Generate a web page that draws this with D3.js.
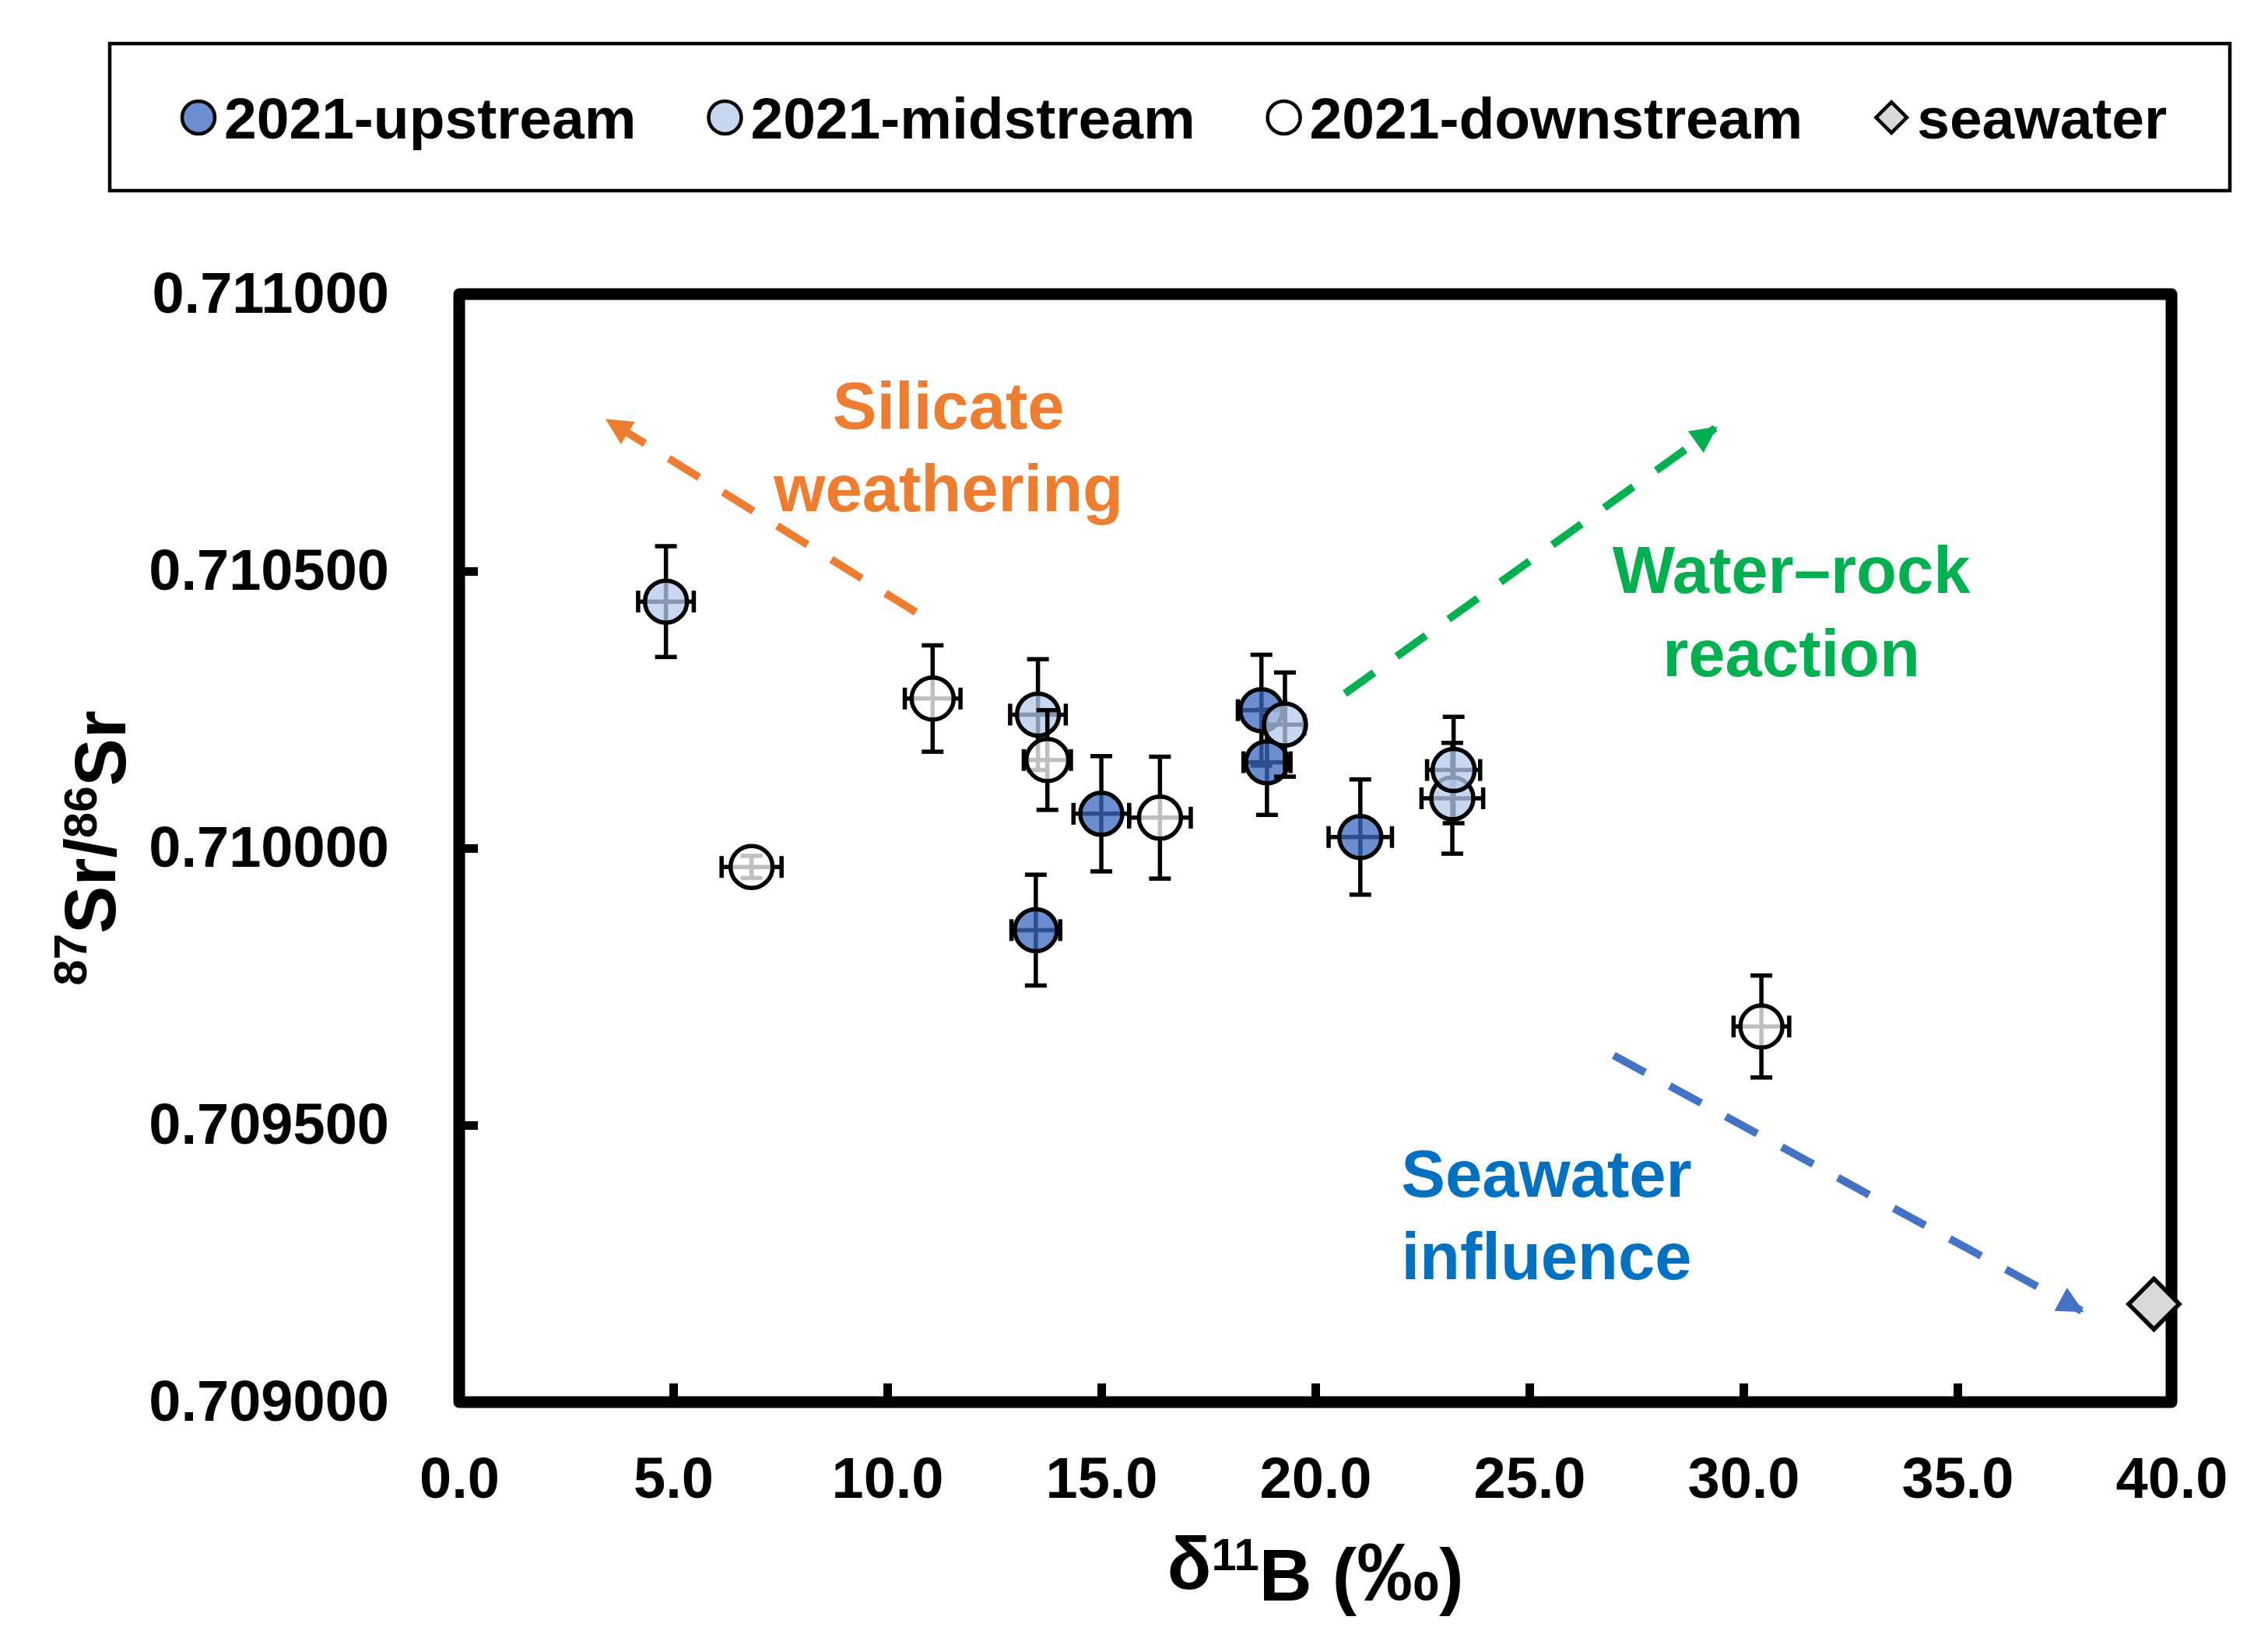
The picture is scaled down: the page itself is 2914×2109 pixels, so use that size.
<!DOCTYPE html>
<html>
<head>
<meta charset="utf-8">
<script src="https://cdn.jsdelivr.net/npm/d3@7"></script>
<style>
  body { margin: 0; background: #fff; }
  text { font-family: "Liberation Sans", Arial, sans-serif; font-weight: bold; }
</style>
</head>
<body>
<script>
// ---- data ----
const upstreamB = [13.47, 15.0, 18.74, 18.87, 21.05];
const upstreamSr = [0.709852, 0.710062, 0.710249, 0.710155, 0.710020];
const upstreamBErr = [0.57, 0.65, 0.55, 0.55, 0.74];
const upstreamSrErr = [0.0001, 0.000104, 0.0001, 0.000095, 0.000104];

const midstreamB = [4.83, 13.52, 19.29, 23.2, 23.23];
const midstreamSr = [0.710445, 0.710241, 0.710223, 0.710090, 0.710141];
const midstreamBErr = [0.65, 0.65, 0.45, 0.72, 0.62];
const midstreamSrErr = [0.0001, 0.0001, 0.000094, 0.0001, 0.000096];

const downstreamB = [6.83, 11.06, 13.74, 16.37, 30.42];
const downstreamSr = [0.709966, 0.710270, 0.710159, 0.710055, 0.709678];
const downstreamBErr = [0.7, 0.65, 0.55, 0.72, 0.65];
const downstreamSrErr = [0.00002, 0.000096, 0.00009, 0.00011, 0.000092];

const seawaterB = [39.59];
const seawaterSr = [0.709177];

const legendLabels = ["2021-upstream", "2021-midstream", "2021-downstream", "seawater"];
const xTickValues = [0, 5, 10, 15, 20, 25, 30, 35, 40];
const yTickValues = [0.709, 0.7095, 0.710, 0.7105, 0.711];

// trend arrows: [from, to] in data units
const arrowSilicate = [[10.67, 0.710426], [3.47, 0.710772]];
const arrowWaterRock = [[20.69, 0.710279], [29.34, 0.710758]];
const arrowSeawater = [[26.97, 0.709626], [37.9, 0.709165]];
const annotationLines = [
  { lines: ["Silicate", "weathering"], at: [11.43, 0.710757], color: "#ED7D31" },
  { lines: ["Water\u2013rock", "reaction"], at: [31.12, 0.710460], color: "#00B050" },
  { lines: ["Seawater", "influence"], at: [25.4, 0.709371], color: "#0070C0" }
];

// ---- layout ----
const W = 2914, H = 2109;
const plot = { left: 590, top: 378, right: 2790, bottom: 1802 };

const svg = d3.select("body").append("svg")
    .attr("width", W)
    .attr("height", H);

const x = d3.scaleLinear().domain([0, 40]).range([plot.left, plot.right]);
const y = d3.scaleLinear().domain([0.709, 0.711]).range([plot.bottom, plot.top]);

// axes (inward ticks)
const xAxis = d3.axisBottom(x)
    .tickValues(xTickValues)
    .tickFormat(d3.format(".1f"))
    .tickSizeInner(-24)
    .tickSizeOuter(0)
    .tickPadding(70);
const yAxis = d3.axisLeft(y)
    .tickValues(yTickValues)
    .tickFormat(d3.format(".6f"))
    .tickSizeInner(-24)
    .tickSizeOuter(0)
    .tickPadding(90);

const gx = svg.append("g").attr("transform", `translate(0,${plot.bottom})`).call(xAxis);
const gy = svg.append("g").attr("transform", `translate(${plot.left},0)`).call(yAxis);
[gx, gy].forEach(g => {
    g.select(".domain").remove();
    g.selectAll(".tick line").attr("stroke", "#000").attr("stroke-width", 11);
    g.selectAll(".tick text")
        .attr("fill", "#000")
        .style("font-size", "74px");
});

// plot frame
svg.append("rect")
    .attr("x", plot.left)
    .attr("y", plot.top)
    .attr("width", plot.right - plot.left)
    .attr("height", plot.bottom - plot.top)
    .attr("fill", "none")
    .attr("stroke", "#000")
    .attr("stroke-width", 15)
    .attr("stroke-linejoin", "round");

// axis titles
const xTitle = svg.append("text")
    .attr("x", (plot.left + plot.right) / 2)
    .attr("y", 2042)
    .attr("text-anchor", "middle")
    .style("font-size", "94px");
xTitle.append("tspan").text("\u03b4");
xTitle.append("tspan").attr("dy", "-0.42em").style("font-size", "58px").text("11");
xTitle.append("tspan").attr("dy", "0.42em").text("B (");
xTitle.append("tspan").style("font-size", "106px").text("\u2030");
xTitle.append("tspan").text(")");

const yTitle = svg.append("text")
    .attr("transform", `translate(135,${(plot.top + plot.bottom) / 2}) rotate(-90)`)
    .attr("text-anchor", "middle")
    .style("font-size", "92px");
yTitle.append("tspan").attr("dy", "-0.4em").style("font-size", "60px").text("87");
yTitle.append("tspan").attr("dy", "0.4em").text("Sr/");
yTitle.append("tspan").attr("dy", "-0.4em").style("font-size", "60px").text("86");
yTitle.append("tspan").attr("dy", "0.4em").text("Sr");

// trend arrows
const defs = svg.append("defs");
function arrowHead(id, color) {
    defs.append("marker")
        .attr("id", id)
        .attr("viewBox", "0 0 10 10")
        .attr("refX", 9)
        .attr("refY", 5)
        .attr("markerWidth", 36)
        .attr("markerHeight", 34)
        .attr("markerUnits", "userSpaceOnUse")
        .attr("orient", "auto")
        .append("path")
        .attr("d", "M0,0L10,5L0,10Z")
        .attr("fill", color);
}
arrowHead("head-orange", "#ED7D31");
arrowHead("head-green", "#00B050");
arrowHead("head-blue", "#4472C4");

function drawArrow(pts, color, head) {
    svg.append("line")
        .attr("x1", x(pts[0][0])).attr("y1", y(pts[0][1]))
        .attr("x2", x(pts[1][0])).attr("y2", y(pts[1][1]))
        .attr("stroke", color)
        .attr("stroke-width", 10)
        .attr("stroke-dasharray", "46 36")
        .attr("marker-end", `url(#${head})`);
}
drawArrow(arrowSilicate, "#ED7D31", "head-orange");
drawArrow(arrowWaterRock, "#00B050", "head-green");
drawArrow(arrowSeawater, "#4472C4", "head-blue");

annotationLines.forEach(a => {
    const t = svg.append("text")
        .attr("x", x(a.at[0]))
        .attr("y", y(a.at[1]))
        .attr("text-anchor", "middle")
        .attr("fill", a.color)
        .style("font-size", "85px");
    a.lines.forEach((line, i) => {
        t.append("tspan")
            .attr("x", x(a.at[0]))
            .attr("dy", i === 0 ? 0 : "1.25em")
            .text(line);
    });
});

// series
const markerR = 27;
const capHalf = 14;

function drawSeries(bs, srs, bErr, srErr, fill) {
    const g = svg.append("g");
    const pts = bs.map((b, i) => ({ b, sr: srs[i], eb: bErr[i], es: srErr[i] }));

    const eb = g.append("g").attr("stroke", "#000").attr("stroke-width", 5.5).attr("fill", "none");
    pts.forEach(d => {
        const cx = x(d.b), cy = y(d.sr);
        const y0 = y(d.sr - d.es), y1 = y(d.sr + d.es);
        const x0 = x(d.b - d.eb), x1 = x(d.b + d.eb);
        eb.append("line").attr("x1", cx).attr("x2", cx).attr("y1", y0).attr("y2", y1);
        eb.append("line").attr("x1", cx - capHalf).attr("x2", cx + capHalf).attr("y1", y0).attr("y2", y0);
        eb.append("line").attr("x1", cx - capHalf).attr("x2", cx + capHalf).attr("y1", y1).attr("y2", y1);
        eb.append("line").attr("x1", x0).attr("x2", x1).attr("y1", cy).attr("y2", cy);
        eb.append("line").attr("x1", x0).attr("x2", x0).attr("y1", cy - capHalf).attr("y2", cy + capHalf);
        eb.append("line").attr("x1", x1).attr("x2", x1).attr("y1", cy - capHalf).attr("y2", cy + capHalf);
    });

    g.selectAll("circle")
        .data(pts)
        .join("circle")
        .attr("cx", d => x(d.b))
        .attr("cy", d => y(d.sr))
        .attr("r", markerR)
        .attr("fill", fill)
        .attr("fill-opacity", 0.75)
        .attr("stroke", "#000")
        .attr("stroke-width", 5.5);
}

const upstreamFill = "#3A68C2";
const midstreamFill = "#B6C9EB";
const downstreamFill = "#FFFFFF";
const seawaterFill = "#D9D9D9";

drawSeries(upstreamB, upstreamSr, upstreamBErr, upstreamSrErr, upstreamFill);
drawSeries(midstreamB, midstreamSr, midstreamBErr, midstreamSrErr, midstreamFill);
drawSeries(downstreamB, downstreamSr, downstreamBErr, downstreamSrErr, downstreamFill);

const diamond = d3.symbol().type(d3.symbolSquare).size(46 * 46);
svg.append("g").selectAll("path")
    .data(seawaterB.map((b, i) => ({ b, sr: seawaterSr[i] })))
    .join("path")
    .attr("d", diamond)
    .attr("transform", d => `translate(${x(d.b)},${y(d.sr)}) rotate(45)`)
    .attr("fill", seawaterFill)
    .attr("stroke", "#000")
    .attr("stroke-width", 5.5);

// legend
svg.append("rect")
    .attr("x", 141).attr("y", 56)
    .attr("width", 2865 - 141).attr("height", 245 - 56)
    .attr("fill", "#fff")
    .attr("stroke", "#000")
    .attr("stroke-width", 4.5);

const legendFills = [upstreamFill, midstreamFill, downstreamFill, seawaterFill];
let lx = 255;
const ly = 151;
legendLabels.forEach((label, i) => {
    if (i === 3) {
        svg.append("path")
            .attr("d", d3.symbol().type(d3.symbolSquare).size(28 * 28))
            .attr("transform", `translate(${lx},${ly}) rotate(45)`)
            .attr("fill", legendFills[i])
            .attr("stroke", "#000")
            .attr("stroke-width", 4.5);
    } else {
        svg.append("circle")
            .attr("cx", lx).attr("cy", ly).attr("r", 21)
            .attr("fill", legendFills[i])
            .attr("fill-opacity", 0.75)
            .attr("stroke", "#000")
            .attr("stroke-width", 4.5);
    }
    const t = svg.append("text")
        .attr("x", lx + 33)
        .attr("y", 178)
        .attr("fill", "#000")
        .style("font-size", "75px")
        .text(label);
    lx += 33 + t.node().getComputedTextLength() + 114;
});
</script>
</body>
</html>
